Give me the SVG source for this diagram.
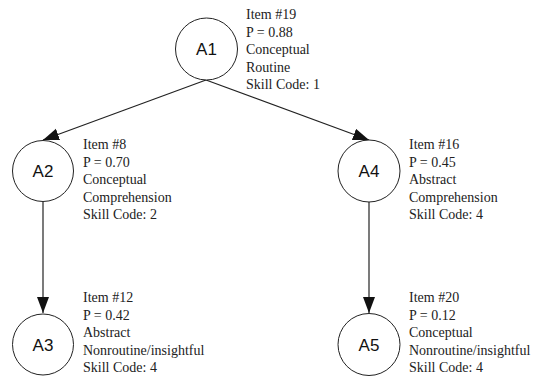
<svg xmlns="http://www.w3.org/2000/svg" width="540" height="390" viewBox="0 0 540 390">
<style>
.node circle{fill:#fff;stroke:#222;stroke-width:1}
.lbl{font-family:"Liberation Sans",Arial,sans-serif;font-size:17px;fill:#111;text-anchor:middle}
.info{font-family:"Liberation Serif","Times New Roman",serif;font-size:14px;fill:#222}
.edge{stroke:#222;stroke-width:1.2;fill:none}
</style>
<defs>
<marker id="ah" markerUnits="userSpaceOnUse" markerWidth="18" markerHeight="14" refX="16" refY="6" orient="auto">
<path d="M0,0 L16,6 L0,12 z" fill="#111"/>
</marker>
</defs>
<rect width="540" height="390" fill="#fff"/>
<g id="connectors">
<line class="edge" x1="206" y1="80" x2="43" y2="140" marker-end="url(#ah)"/>
<line class="edge" x1="206" y1="80" x2="369" y2="140" marker-end="url(#ah)"/>
<line class="edge" x1="43" y1="202" x2="43" y2="313" marker-end="url(#ah)"/>
<line class="edge" x1="369" y1="202" x2="369" y2="313" marker-end="url(#ah)"/>
</g>
<g id="A1" class="node">
<circle cx="206.5" cy="49" r="31"/>
<text class="lbl" x="206.5" y="55">A1</text>
<text class="info"><tspan x="246" y="19">Item #19</tspan><tspan x="246" y="36.5">P = 0.88</tspan><tspan x="246" y="54">Conceptual</tspan><tspan x="246" y="71.5">Routine</tspan><tspan x="246" y="89">Skill Code: 1</tspan></text>
</g>
<g id="A2" class="node">
<circle cx="43" cy="171" r="30.5"/>
<text class="lbl" x="43" y="177">A2</text>
<text class="info"><tspan x="83" y="149">Item #8</tspan><tspan x="83" y="166.5">P = 0.70</tspan><tspan x="83" y="184">Conceptual</tspan><tspan x="83" y="201.5">Comprehension</tspan><tspan x="83" y="219">Skill Code: 2</tspan></text>
</g>
<g id="A4" class="node">
<circle cx="369" cy="171" r="31"/>
<text class="lbl" x="369" y="177">A4</text>
<text class="info"><tspan x="409" y="149">Item #16</tspan><tspan x="409" y="166.5">P = 0.45</tspan><tspan x="409" y="184">Abstract</tspan><tspan x="409" y="201.5">Comprehension</tspan><tspan x="409" y="219">Skill Code: 4</tspan></text>
</g>
<g id="A3" class="node">
<circle cx="43" cy="344.5" r="30.5"/>
<text class="lbl" x="43" y="350.5">A3</text>
<text class="info"><tspan x="83" y="302">Item #12</tspan><tspan x="83" y="319.5">P = 0.42</tspan><tspan x="83" y="337">Abstract</tspan><tspan x="83" y="354.5">Nonroutine/insightful</tspan><tspan x="83" y="372">Skill Code: 4</tspan></text>
</g>
<g id="A5" class="node">
<circle cx="369" cy="344.5" r="31"/>
<text class="lbl" x="369" y="350.5">A5</text>
<text class="info"><tspan x="409" y="302">Item #20</tspan><tspan x="409" y="319.5">P = 0.12</tspan><tspan x="409" y="337">Conceptual</tspan><tspan x="409" y="354.5">Nonroutine/insightful</tspan><tspan x="409" y="372">Skill Code: 4</tspan></text>
</g>
</svg>
